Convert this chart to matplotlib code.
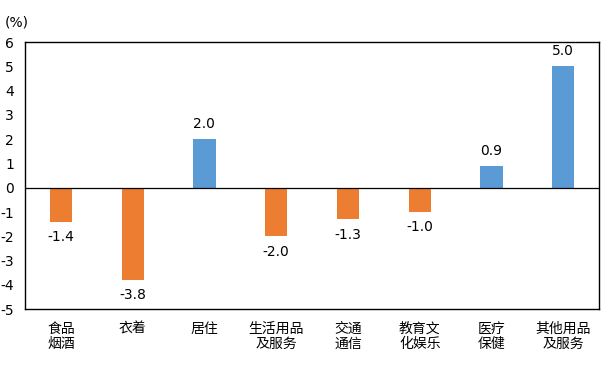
import matplotlib
matplotlib.use('Agg')
import matplotlib.pyplot as plt

plt.rcParams['font.family'] = ['Noto Sans CJK SC', 'DejaVu Sans']

categories = ['食品\n烟酒', '衣着', '居住', '生活用品\n及服务', '交通\n通信', '教育文\n化娱乐', '医疗\n保健', '其他用品\n及服务']
values = [-1.4, -3.8, 2.0, -2.0, -1.3, -1.0, 0.9, 5.0]
yticks = [6, 5, 4, 3, 2, 1, 0, -1, -2, -3, -4, -5]

blue = '#5B9BD5'
orange = '#ED7D31'

fig = plt.figure(figsize=(6.09, 3.72), dpi=100)
ax = fig.add_axes([0.041, 0.169, 0.943, 0.718])

x = list(range(len(categories)))
colors = [blue if v > 0 else orange for v in values]
ax.bar(x, values, width=0.31, color=colors, zorder=2)
ax.axhline(0, color='black', lw=0.9, zorder=3)

for xi, v in zip(x, values):
    if v > 0:
        ax.annotate(f'{v:.1f}', (xi, v), xytext=(0, 6), textcoords='offset points',
                    ha='center', va='bottom', fontsize=10, family='DejaVu Sans')
    else:
        ax.annotate(f'{v:.1f}', (xi, v), xytext=(0, -6), textcoords='offset points',
                    ha='center', va='top', fontsize=10, family='DejaVu Sans')

ax.set_xlim(-0.5, len(categories) - 0.5)
ax.set_ylim(-5, 6)
ax.set_yticks(yticks)
ax.set_yticklabels([str(t) for t in yticks], family='DejaVu Sans', fontsize=10)
ax.set_xticks(x)
ax.set_xticklabels(categories, fontsize=10, linespacing=1.1)
ax.tick_params(axis='both', length=0, pad=8)
ax.tick_params(axis='x', pad=9)
for s in ax.spines.values():
    s.set_linewidth(1.0)

fig.text(0.008, 0.94, '(%)', fontsize=10, family='DejaVu Sans', va='center')

fig.savefig('out.png', dpi=100)
